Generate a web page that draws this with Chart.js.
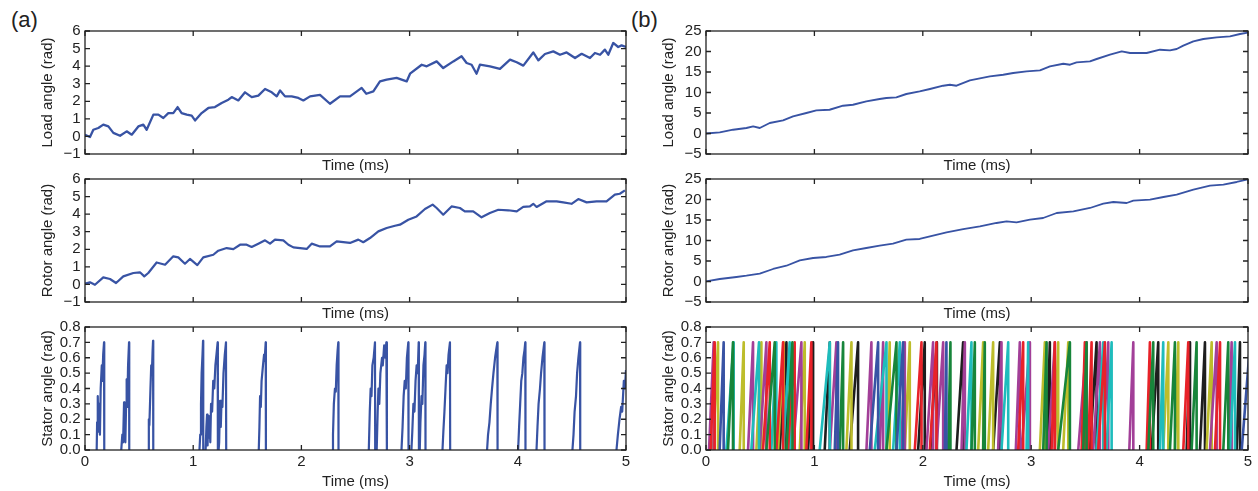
<!DOCTYPE html>
<html>
<head>
<meta charset="utf-8">
<script src="https://cdn.jsdelivr.net/npm/chart.js@4.4.0/dist/chart.umd.min.js"></script>
<style>
  body { margin: 0; background: #fff; width: 1258px; height: 491px; overflow: hidden; position: relative; font-family: "Liberation Sans", Arial, sans-serif; }
  canvas { position: absolute; }
  .panel { position: absolute; font-size: 22px; line-height: 22px; color: #222; }
</style>
</head>
<body>
<div class="panel" style="left:11px;top:9px">(a)</div>
<div class="panel" style="left:631px;top:9px">(b)</div>
<canvas id="a1"></canvas>
<canvas id="a2"></canvas>
<canvas id="a3"></canvas>
<canvas id="b1"></canvas>
<canvas id="b2"></canvas>
<canvas id="b3"></canvas>
<script>
// ---- data ----
// (a) load angle
const loadA_t = [0,0.046,0.077,0.123,0.169,0.216,0.262,0.324,0.385,0.432,0.493,0.539,0.570,0.632,0.678,0.724,0.770,0.816,0.856,0.893,0.940,0.986,1.017,1.078,1.140,1.201,1.263,1.325,1.356,1.417,1.479,1.541,1.602,1.664,1.726,1.772,1.803,1.849,1.910,1.972,2.018,2.080,2.172,2.264,2.357,2.449,2.557,2.600,2.665,2.726,2.788,2.880,2.973,3.004,3.112,3.158,3.250,3.311,3.404,3.480,3.527,3.573,3.619,3.650,3.743,3.835,3.928,3.990,4.051,4.143,4.190,4.251,4.328,4.390,4.451,4.529,4.590,4.667,4.713,4.760,4.805,4.836,4.882,4.928,4.959,5.0];
const loadA_v = [0.10,-0.03,0.38,0.48,0.67,0.57,0.20,0.04,0.29,0.10,0.57,0.67,0.38,1.24,1.24,1.05,1.33,1.33,1.67,1.33,1.24,1.18,0.91,1.33,1.62,1.67,1.90,2.09,2.24,2.05,2.51,2.24,2.32,2.70,2.51,2.28,2.62,2.28,2.28,2.19,2.05,2.28,2.37,1.86,2.28,2.28,2.76,2.43,2.56,3.13,3.23,3.33,3.13,3.57,4.08,3.99,4.27,3.89,4.27,4.56,4.18,4.08,3.57,4.08,3.99,3.84,4.37,4.22,4.03,4.78,4.33,4.69,4.84,4.65,4.78,4.46,4.70,4.46,4.75,4.65,4.94,4.65,5.32,5.09,5.18,5.09];

// (a) rotor angle
const rotorA_t = [0,0.046,0.092,0.169,0.231,0.287,0.354,0.447,0.508,0.548,0.585,0.662,0.740,0.816,0.862,0.924,0.970,1.038,1.093,1.186,1.232,1.309,1.371,1.433,1.494,1.540,1.602,1.664,1.710,1.756,1.833,1.880,1.926,1.988,2.049,2.095,2.172,2.264,2.326,2.449,2.526,2.572,2.634,2.711,2.788,2.865,2.911,2.988,3.065,3.142,3.213,3.250,3.311,3.388,3.465,3.510,3.588,3.665,3.742,3.820,3.912,3.990,4.050,4.112,4.143,4.174,4.266,4.359,4.420,4.497,4.559,4.636,4.728,4.820,4.897,4.943,4.990];
const rotorA_v = [0.04,0.12,-0.02,0.40,0.31,0.08,0.46,0.65,0.69,0.46,0.65,1.25,1.12,1.60,1.54,1.18,1.45,1.10,1.54,1.69,1.92,2.07,2.01,2.26,2.26,2.13,2.32,2.51,2.32,2.55,2.51,2.26,2.11,2.07,2.02,2.32,2.16,2.16,2.45,2.36,2.55,2.40,2.64,3.02,3.21,3.34,3.40,3.68,3.87,4.29,4.54,4.35,3.97,4.44,4.35,4.16,4.16,3.82,4.07,4.25,4.22,4.16,4.41,4.44,4.59,4.41,4.73,4.73,4.67,4.59,4.86,4.67,4.73,4.73,5.11,5.16,5.35];

// (a) stator angle: one list of [time, angle] per power stroke
const statorA = [
  [[0.108,0],[0.112,0.18],[0.118,0.35],[0.124,0.12],[0.130,0.30],[0.138,0.10],[0.145,0.40],[0.155,0.55],[0.160,0.45],[0.168,0.62],[0.176,0.70],[0.178,0]],
  [[0.335,0],[0.345,0.10],[0.352,0.05],[0.361,0.31],[0.366,0.15],[0.373,0.05],[0.380,0.30],[0.385,0.46],[0.391,0.28],[0.398,0.55],[0.407,0.70],[0.409,0]],
  [[0.586,0],[0.590,0.20],[0.595,0.16],[0.605,0.40],[0.612,0.55],[0.618,0.50],[0.625,0.65],[0.629,0.71],[0.631,0]],
  [[1.058,0],[1.065,0.10],[1.072,0.30],[1.078,0.50],[1.086,0.62],[1.091,0.71],[1.093,0]],
  [[1.115,0],[1.122,0.15],[1.128,0.23],[1.133,0.03],[1.140,0.22],[1.146,0.08],[1.152,0.18],[1.158,0.05],[1.165,0.30],[1.175,0.25],[1.185,0.45],[1.195,0.40],[1.205,0.55],[1.215,0.62],[1.226,0.70],[1.228,0]],
  [[1.235,0],[1.240,0.05],[1.248,0.32],[1.255,0.15],[1.262,0.32],[1.270,0.28],[1.280,0.50],[1.292,0.62],[1.303,0.70],[1.305,0]],
  [[1.606,0],[1.612,0.15],[1.618,0.35],[1.625,0.28],[1.632,0.45],[1.645,0.55],[1.655,0.62],[1.660,0.58],[1.670,0.70],[1.672,0]],
  [[2.284,0],[2.292,0.10],[2.300,0.30],[2.310,0.40],[2.318,0.38],[2.326,0.55],[2.335,0.65],[2.341,0.70],[2.343,0]],
  [[2.623,0],[2.632,0.25],[2.640,0.40],[2.648,0.35],[2.656,0.55],[2.668,0.60],[2.680,0.70],[2.682,0]],
  [[2.696,0],[2.705,0.25],[2.712,0.40],[2.720,0.30],[2.730,0.50],[2.745,0.60],[2.752,0.55],[2.765,0.68],[2.775,0.60],[2.785,0.70],[2.790,0]],
  [[2.925,0],[2.935,0.15],[2.945,0.35],[2.955,0.45],[2.965,0.40],[2.975,0.60],[2.988,0.70],[2.990,0]],
  [[3.017,0],[3.025,0.12],[3.035,0.30],[3.045,0.25],[3.055,0.45],[3.065,0.55],[3.075,0.50],[3.084,0.70],[3.086,0]],
  [[3.094,0],[3.100,0.18],[3.110,0.35],[3.118,0.30],[3.128,0.55],[3.138,0.62],[3.145,0.70],[3.147,0]],
  [[3.304,0],[3.312,0.12],[3.322,0.25],[3.332,0.40],[3.342,0.55],[3.350,0.50],[3.360,0.62],[3.373,0.70],[3.375,0]],
  [[3.716,0],[3.725,0.10],[3.738,0.18],[3.750,0.30],[3.762,0.40],[3.775,0.50],[3.790,0.60],[3.800,0.65],[3.811,0.70],[3.813,0]],
  [[4.003,0],[4.012,0.15],[4.022,0.30],[4.032,0.45],[4.042,0.50],[4.052,0.60],[4.062,0.65],[4.069,0.70],[4.071,0]],
  [[4.173,0],[4.182,0.15],[4.192,0.30],[4.205,0.40],[4.215,0.50],[4.228,0.60],[4.238,0.66],[4.245,0.70],[4.247,0]],
  [[4.505,0],[4.515,0.10],[4.525,0.25],[4.538,0.35],[4.548,0.50],[4.560,0.60],[4.575,0.70],[4.577,0]],
  [[4.912,0],[4.925,0.10],[4.940,0.20],[4.955,0.28],[4.965,0.25],[4.980,0.45],[4.990,0.40],[5.0,0.52]]
];

// (b) load and rotor angle
const loadB_t = [0,0.127,0.25,0.373,0.435,0.496,0.588,0.711,0.803,0.926,1.018,1.14,1.264,1.356,1.479,1.602,1.664,1.756,1.848,1.971,2.066,2.188,2.25,2.311,2.434,2.619,2.742,2.834,2.957,3.081,3.173,3.296,3.358,3.419,3.542,3.604,3.727,3.835,3.912,4.065,4.188,4.28,4.342,4.403,4.496,4.588,4.711,4.834,4.926,5.0];
const loadB_v = [0,0.27,0.93,1.34,1.73,1.34,2.56,3.20,4.17,5.0,5.63,5.80,6.78,7.02,7.83,8.41,8.66,8.8,9.63,10.27,10.85,11.66,11.90,11.66,12.95,13.93,14.34,14.76,15.15,15.39,16.37,17.02,16.78,17.34,17.58,18.17,19.22,20.02,19.63,19.63,20.44,20.28,20.61,21.41,22.46,23.05,23.44,23.68,24.27,24.6];
const rotorB_t = [0,0.127,0.281,0.373,0.496,0.619,0.742,0.865,0.988,1.11,1.233,1.356,1.479,1.602,1.725,1.848,1.971,2.066,2.219,2.373,2.527,2.68,2.773,2.865,2.988,3.11,3.235,3.389,3.542,3.665,3.758,3.881,3.942,4.096,4.22,4.342,4.496,4.65,4.773,4.896,5.0];
const rotorB_v = [0.02,0.61,1.10,1.41,1.90,3.05,3.85,5.15,5.73,5.98,6.54,7.59,8.17,8.73,9.22,10.20,10.37,11.0,11.98,12.80,13.44,14.27,14.66,14.41,15.07,15.49,16.71,17.10,17.93,18.98,19.39,19.15,19.71,19.95,20.61,21.17,22.39,23.37,23.61,24.27,24.9];

// (b) stator angle, one list of strokes [start, end] per head (colour)
const strokesBlue = [[0.126,0.163],[1.188,1.218],[1.511,1.588],[1.757,1.818],[2.203,2.218],[4.942,5.02]];
const strokesGreen = [[0.203,0.249],[0.557,0.634],[0.742,0.797],[1.234,1.265],[1.665,1.757],[2.234,2.255],[2.449,2.48],[2.557,2.572],[3.111,3.142],[3.249,3.357],[3.48,3.511],[4.08,4.126],[4.28,4.326],[4.48,4.526],[4.772,4.818]];
const strokesRed = [[0.043,0.08],[0.526,0.588],[0.649,0.711],[0.757,0.818],[0.926,0.972],[1.926,1.988],[2.065,2.126],[2.88,2.926],[3.188,3.218],[3.465,3.495],[3.526,3.557],[3.618,3.68],[4.065,4.095],[4.403,4.449],[4.695,4.742]];
const strokesCyan = [[0.188,0.255],[0.418,0.489],[0.603,0.649],[0.711,0.772],[1.049,1.142],[1.557,1.665],[1.726,1.788],[2.403,2.449],[2.726,2.788],[2.957,2.972],[3.603,3.665],[3.695,3.742],[4.188,4.218],[4.834,4.88]];
const strokesMagenta = [[0.028,0.071],[0.388,0.434],[0.495,0.557],[0.803,0.88],[1.142,1.203],[1.48,1.526],[1.603,1.634],[1.803,1.834],[2.034,2.095],[2.126,2.188],[2.357,2.388],[2.695,2.726],[2.858,2.895],[2.911,2.988],[3.157,3.218],[3.434,3.511],[3.572,3.634],[3.665,3.711],[3.905,3.942],[4.649,4.711],[4.818,4.849]];
const strokesYellow = [[0.065,0.111],[0.311,0.348],[0.465,0.511],[0.665,0.717],[0.865,0.911],[1.295,1.342],[1.665,1.695],[1.834,1.88],[2.511,2.557],[2.603,2.649],[3.08,3.126],[3.218,3.249],[3.295,3.342],[4.218,4.265],[4.326,4.357],[4.618,4.665]];
const strokesBlack = [[0.68,0.742],[0.942,0.988],[1.095,1.142],[1.326,1.403],[1.957,2.018],[2.07,2.13],[2.311,2.372],[2.649,2.711],[3.142,3.172],[3.542,3.603],[4.111,4.172],[4.434,4.465],[4.557,4.603],[4.895,4.926]];
const strokeTop = 0.7;

const BLUE = '#3853a4';
const font = { family: 'Liberation Sans', size: 15 };
const ink = '#222';

// ---- helpers ----
function xy(t, v) { return t.map((x, i) => ({ x: x, y: v[i] })); }
function fromRamps(ramps) {
  const out = [];
  ramps.forEach(r => {
    r.forEach(p => out.push({ x: p[0], y: p[1] }));
    out.push({ x: r[r.length - 1][0], y: null });
  });
  return out;
}
function fromStrokes(list) {
  const out = [];
  list.forEach(s => {
    out.push({ x: s[0], y: 0 }, { x: s[1], y: strokeTop }, { x: s[1], y: 0 }, { x: s[1], y: null });
  });
  return out;
}
function minusFmt(v) { return v < 0 ? '\u2212' + Math.abs(v) : String(v); }

// matplotlib-style box with inward ticks on all sides
const frameTicks = {
  id: 'frameTicks',
  afterDatasetsDraw(chart) {
    const { ctx, chartArea: a, scales: { x, y } } = chart;
    ctx.save();
    ctx.strokeStyle = ink;
    ctx.lineWidth = 1.3;
    ctx.beginPath();
    x.ticks.forEach(t => {
      const px = x.getPixelForValue(t.value);
      ctx.moveTo(px, a.bottom); ctx.lineTo(px, a.bottom - 5);
      ctx.moveTo(px, a.top); ctx.lineTo(px, a.top + 5);
    });
    y.ticks.forEach(t => {
      const py = y.getPixelForValue(t.value);
      ctx.moveTo(a.left, py); ctx.lineTo(a.left + 5, py);
      ctx.moveTo(a.right, py); ctx.lineTo(a.right - 5, py);
    });
    ctx.stroke();
    ctx.strokeRect(a.left, a.top, a.right - a.left, a.bottom - a.top);
    ctx.restore();
  }
};

function makePlot(id, box, ycfg, datasets, last) {
  const cv = document.getElementById(id);
  const bottom = last ? 491 - (box.y + box.h) : 22;
  const w = 85 + box.w + 12, h = 10 + box.h + bottom;
  cv.width = w; cv.height = h;
  cv.style.left = (box.x - 85) + 'px';
  cv.style.top = (box.y - 10) + 'px';
  cv.style.width = w + 'px';
  cv.style.height = h + 'px';
  new Chart(cv, {
    type: 'line',
    data: { datasets: datasets },
    options: {
      responsive: false,
      animation: false,
      devicePixelRatio: 1,
      layout: { padding: { top: 10, right: 12, left: 0, bottom: 0 } },
      plugins: { legend: { display: false }, tooltip: { enabled: false } },
      elements: { point: { radius: 0 }, line: { tension: 0, borderJoinStyle: 'round' } },
      scales: {
        x: {
          type: 'linear', min: 0, max: 5,
          grid: { display: false, drawTicks: false },
          border: { display: false },
          ticks: { stepSize: 1, autoSkip: false, display: last, color: ink, font: font, padding: 3, maxRotation: 0 },
          title: { display: true, text: 'Time (ms)', color: ink, font: font, padding: { top: 0, bottom: last ? 0.5 : 1 } },
          afterFit(s) { s.height = bottom; s.paddingLeft = 0; s.paddingRight = 0; }
        },
        y: {
          type: 'linear', min: ycfg.min, max: ycfg.max,
          grid: { display: false, drawTicks: false },
          border: { display: false },
          ticks: { stepSize: ycfg.step, autoSkip: false, color: ink, font: font, padding: 4.5, callback: ycfg.fmt },
          title: { display: true, text: ycfg.title, color: ink, font: font, padding: { top: 38.5, bottom: 0 } },
          afterFit(s) { s.width = 85; s.paddingTop = 0; s.paddingBottom = 0; }
        }
      }
    },
    plugins: [frameTicks]
  });
}

function line(data, color, width) {
  return { data: data, borderColor: color, borderWidth: width, pointRadius: 0, spanGaps: false, fill: false };
}

const boxA = (y) => ({ x: 85, y: y, w: 541, h: 123 });
const boxB = (y) => ({ x: 706, y: y, w: 542, h: 123 });
const rowTop = [31, 179, 327];

const yA = (title) => ({ min: -1, max: 6, step: 1, fmt: minusFmt, title: title });
const yB = (title) => ({ min: -5, max: 25, step: 5, fmt: minusFmt, title: title });
const yS = { min: 0, max: 0.8, step: 0.1, fmt: v => v.toFixed(1), title: 'Stator angle (rad)' };

makePlot('a1', boxA(rowTop[0]), yA('Load angle (rad)'), [line(xy(loadA_t, loadA_v), BLUE, 2.3)], false);
makePlot('a2', boxA(rowTop[1]), yA('Rotor angle (rad)'), [line(xy(rotorA_t, rotorA_v), BLUE, 2.2)], false);
makePlot('a3', boxA(rowTop[2]), yS, [line(fromRamps(statorA), BLUE, 2.2)], true);

makePlot('b1', boxB(rowTop[0]), yB('Load angle (rad)'), [line(xy(loadB_t, loadB_v), BLUE, 1.9)], false);
makePlot('b2', boxB(rowTop[1]), yB('Rotor angle (rad)'), [line(xy(rotorB_t, rotorB_v), BLUE, 1.8)], false);
makePlot('b3', boxB(rowTop[2]), yS, [
  line(fromStrokes(strokesBlue), BLUE, 2.6),
  line(fromStrokes(strokesGreen), '#17853a', 2.6),
  line(fromStrokes(strokesRed), '#e82229', 2.6),
  line(fromStrokes(strokesCyan), '#1ebcbc', 2.6),
  line(fromStrokes(strokesMagenta), '#a23f98', 2.6),
  line(fromStrokes(strokesYellow), '#bdbd2b', 2.6),
  line(fromStrokes(strokesBlack), '#1e1e1e', 2.6)
], true);
</script>
</body>
</html>
